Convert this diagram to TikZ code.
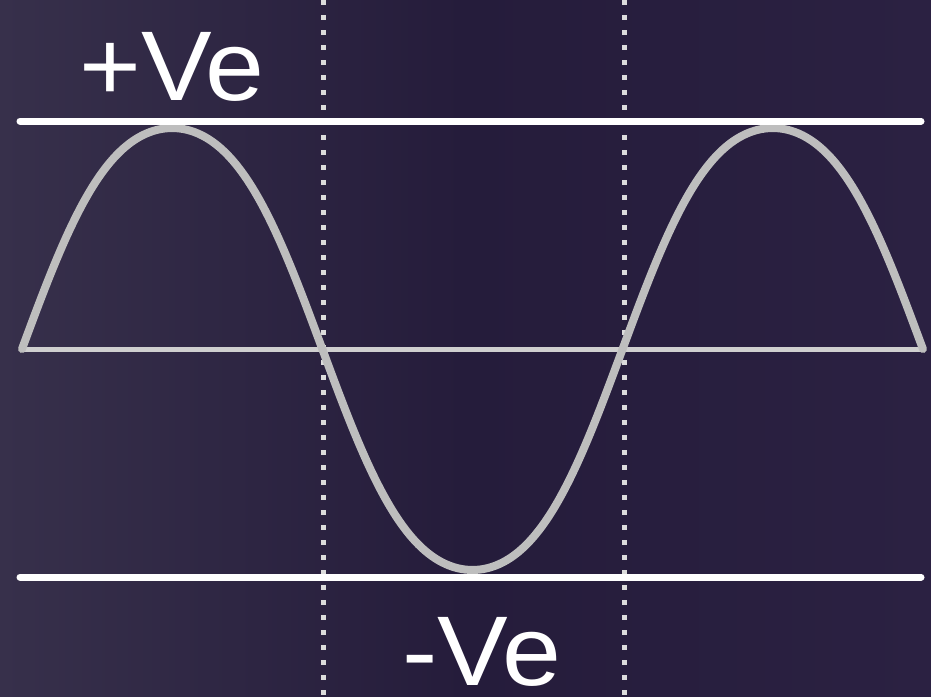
\documentclass[tikz,border=0pt]{standalone}
\usepackage{fontspec}
\setmainfont{Liberation Sans}
\definecolor{bgpurple}{HTML}{2B2142}
\definecolor{bgleft}{HTML}{37304B}
\definecolor{bgdark}{HTML}{251C3B}
\definecolor{wavegray}{HTML}{BEBEBE}
\definecolor{axisgray}{HTML}{CFCFCF}
\definecolor{dotgray}{HTML}{DCDCDC}
\begin{document}
\begin{tikzpicture}[x=1pt,y=-1pt,
  levelline/.style={draw=white,line width=7pt,line cap=round},
  axisline/.style={draw=axisgray,line width=5pt,line cap=round},
  dotline/.style={draw=dotgray,line width=5pt,dash pattern=on 5pt off 10pt},
  wave/.style={draw=wavegray,line width=8pt,line cap=round,line join=round},
  label/.style={text=white,font=\fontsize{99}{118}\selectfont,inner sep=0pt,anchor=base}]
\useasboundingbox (0,0) rectangle (931,696);
\fill[left color=bgleft,right color=bgpurple,middle color=bgdark] (0,0) rectangle (931,696);
% dotted vertical lines
\coordinate (d1t) at (323,0); \coordinate (d1b) at (323,696);
\coordinate (d2t) at (624,0); \coordinate (d2b) at (624,696);
\draw[dotline] (d1t) -- (d1b);
\draw[dotline] (d2t) -- (d2b);
% level lines
\coordinate (tl) at (20,121); \coordinate (tr) at (921,121);
\coordinate (ml) at (22,349); \coordinate (mr) at (922,349);
\coordinate (bl) at (20,577); \coordinate (br) at (921,577);
\draw[axisline] (ml) -- (mr);
% wave
\draw[wave] plot[domain=0:540,samples=241,smooth]
  ({22+\x/180*300.3},{349-221*(sin(\x)+0.04*sin(3*\x))/0.96});
\draw[levelline] (tl) -- (tr);
\draw[levelline] (bl) -- (br);
% labels
\node[label] (pos) at (172,100) {\scalebox{1.07}[1]{+Ve}};
\node[label] (neg) at (482,685) {\scalebox{1.07}[1]{-Ve}};
\end{tikzpicture}
\end{document}
